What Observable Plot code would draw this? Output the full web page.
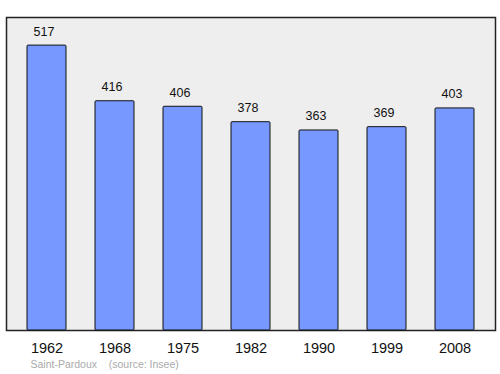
<!DOCTYPE html>
<html><head><meta charset="utf-8">
<script src="https://cdn.jsdelivr.net/npm/d3@7"></script>
<script src="https://cdn.jsdelivr.net/npm/@observablehq/plot@0.6"></script>
<style>body{margin:0;background:#fff;} svg{display:block;}</style>
</head><body><div id="chart"></div>
<script>
const years = ["1962","1968","1975","1982","1990","1999","2008"];
const population = [517,416,406,378,363,369,403];
const captionText = "Saint-Pardoux    (source: Insee)";
const data = years.map((y,i)=>({year:y, pop:population[i]}));

const chart = Plot.plot({
  width: 500, height: 374,
  marginLeft: 6, marginRight: 5, marginTop: 17, marginBottom: 44,
  style: {fontFamily: "'Liberation Sans', Arial, sans-serif", background: "#fff"},
  x: {domain: years, paddingInner: 0.43, paddingOuter: 0.28, label: null},
  y: {domain: [0, 568], axis: null},
  marks: [
    Plot.frame({fill: "#eeeeee", stroke: "#222", strokeWidth: 1.5}),
    Plot.barY(data, {x: "year", y: "pop", fill: "#7799ff", stroke: "#111", strokeWidth: 1, rx: 1}),
    Plot.text(data, {x: "year", y: "pop", text: d => String(d.pop), dy: -14, dx: -3, fontSize: 12.5, fill: "#111"}),
    Plot.axisX({tickSize: 0, tickPadding: 12.5, fontSize: 14.5, label: null, fill: "#111"}),
    Plot.text([captionText], {frameAnchor: "bottom-left", text: d => d, dx: 24, dy: 34, fontSize: 10.5, fill: "#aaaaaa", textAnchor: "start", lineAnchor: "middle"})
  ]
});
document.getElementById("chart").append(chart);
</script></body></html>
